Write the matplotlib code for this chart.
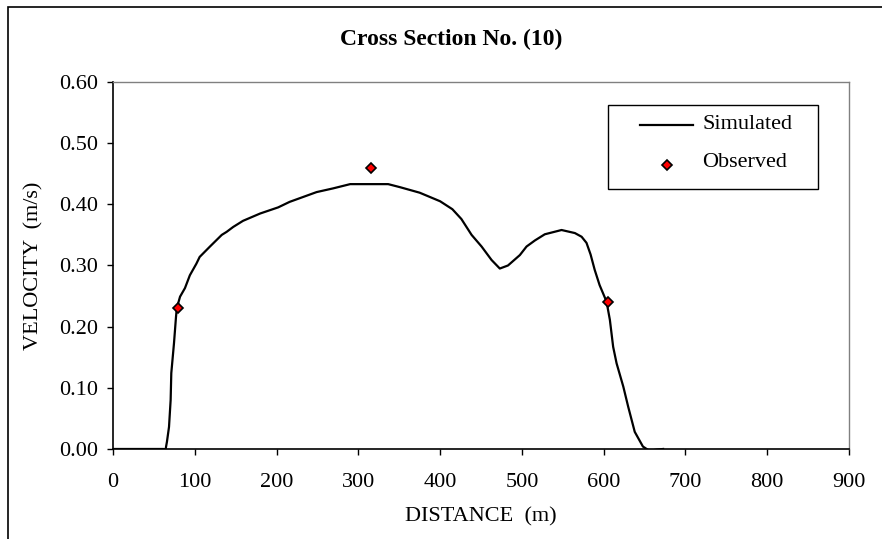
import matplotlib
matplotlib.use("Agg")
import matplotlib.pyplot as plt
from matplotlib.patches import Rectangle
from matplotlib.lines import Line2D

plt.rcParams['font.family'] = ['Liberation Serif', 'DejaVu Serif']

# simulated velocity along the section
sim_x = [0, 20, 40, 55, 62, 64, 66, 68.5, 70.5, 71.3, 74.6, 77, 78, 82, 88, 94, 102,
         106, 118.6, 133, 139, 147, 159, 180, 202, 216, 249, 269, 290, 336.5, 351,
         375, 400, 415, 426, 438.5, 450.7, 462.9, 473, 483, 497.5, 505.7, 516, 528,
         548.5, 564.8, 573, 579, 584, 589, 595, 603.5, 607.6, 611.6, 615.8, 624, 630,
         638, 648, 656, 664.6, 672.7]
sim_v = [0, 0, 0, 0, 0, -0.003, 0.012, 0.036, 0.08, 0.124, 0.173, 0.215, 0.23, 0.249,
         0.263, 0.284, 0.303, 0.314, 0.331, 0.35, 0.355, 0.363, 0.373, 0.385, 0.395,
         0.404, 0.42, 0.426, 0.433, 0.433, 0.428, 0.419, 0.405, 0.392, 0.376, 0.35,
         0.331, 0.309, 0.295, 0.3, 0.317, 0.331, 0.341, 0.351, 0.358, 0.353, 0.347,
         0.337, 0.318, 0.293, 0.268, 0.241, 0.211, 0.167, 0.14, 0.102, 0.069, 0.028,
         0.004, -0.003, -0.001, 0]

# observed points
obs_x = [80, 315, 605]
obs_v = [0.23, 0.46, 0.241]

x_ticks = [0, 100, 200, 300, 400, 500, 600, 700, 800, 900]
y_ticks = [0.0, 0.1, 0.2, 0.3, 0.4, 0.5, 0.6]

fig = plt.figure(figsize=(8.82, 5.39), dpi=100)
ax = fig.add_axes([0.1281, 0.167, 0.8345, 0.6809])

ax.plot(sim_x, sim_v, color='black', linewidth=1.6)
ax.plot(obs_x, obs_v, linestyle='none', marker='D', markersize=5.5,
        markerfacecolor='red', markeredgecolor='black', markeredgewidth=1.2)

ax.set_xlim(0, 900)
ax.set_ylim(0, 0.6)
ax.set_xticks(x_ticks)
ax.set_yticks(y_ticks)
ax.set_yticklabels(['%.2f' % v for v in y_ticks])
ax.tick_params(direction='out', length=4, width=1, labelsize=16)
ax.tick_params(axis='x', pad=13)
ax.tick_params(axis='y', pad=7)

for side in ['top', 'right']:
    ax.spines[side].set_color('#808080')
    ax.spines[side].set_linewidth(1)
for side in ['left', 'bottom']:
    ax.spines[side].set_color('black')
    ax.spines[side].set_linewidth(1.2)

ax.set_xlabel('DISTANCE  (m)', fontsize=16)
ax.xaxis.set_label_coords(0.5, -0.158)
ax.set_ylabel('VELOCITY  (m/s)', fontsize=16)
ax.yaxis.set_label_coords(-0.095, 0.5)
fig.text(0.511, 0.927, 'Cross Section No. (10)', ha='center', va='center',
         fontsize=17, fontweight='bold')

# legend box, drawn in axes coordinates
ax.add_patch(Rectangle((0.6726, 0.7084), 0.2853, 0.2289, transform=ax.transAxes,
                       facecolor='white', edgecolor='black', linewidth=1, zorder=5))
ax.add_line(Line2D([0.716, 0.788], [0.8828, 0.8828], transform=ax.transAxes,
                   color='black', linewidth=1.6, zorder=6))
ax.add_line(Line2D([0.7523], [0.7738], transform=ax.transAxes, linestyle='none',
                   marker='D', markersize=5.5, markerfacecolor='red',
                   markeredgecolor='black', markeredgewidth=1.2, zorder=6))
ax.text(0.8003, 0.8828, 'Simulated', transform=ax.transAxes, fontsize=16,
        va='center', ha='left', zorder=6)
ax.text(0.8003, 0.7793, 'Observed', transform=ax.transAxes, fontsize=16,
        va='center', ha='left', zorder=6)

fig.patches.append(Rectangle((8 / 882, -0.1), 1.2, 1.1 - 7 / 539,
                             transform=fig.transFigure, fill=False,
                             edgecolor='black', linewidth=1.2))

fig.savefig('out.png', dpi=100)
